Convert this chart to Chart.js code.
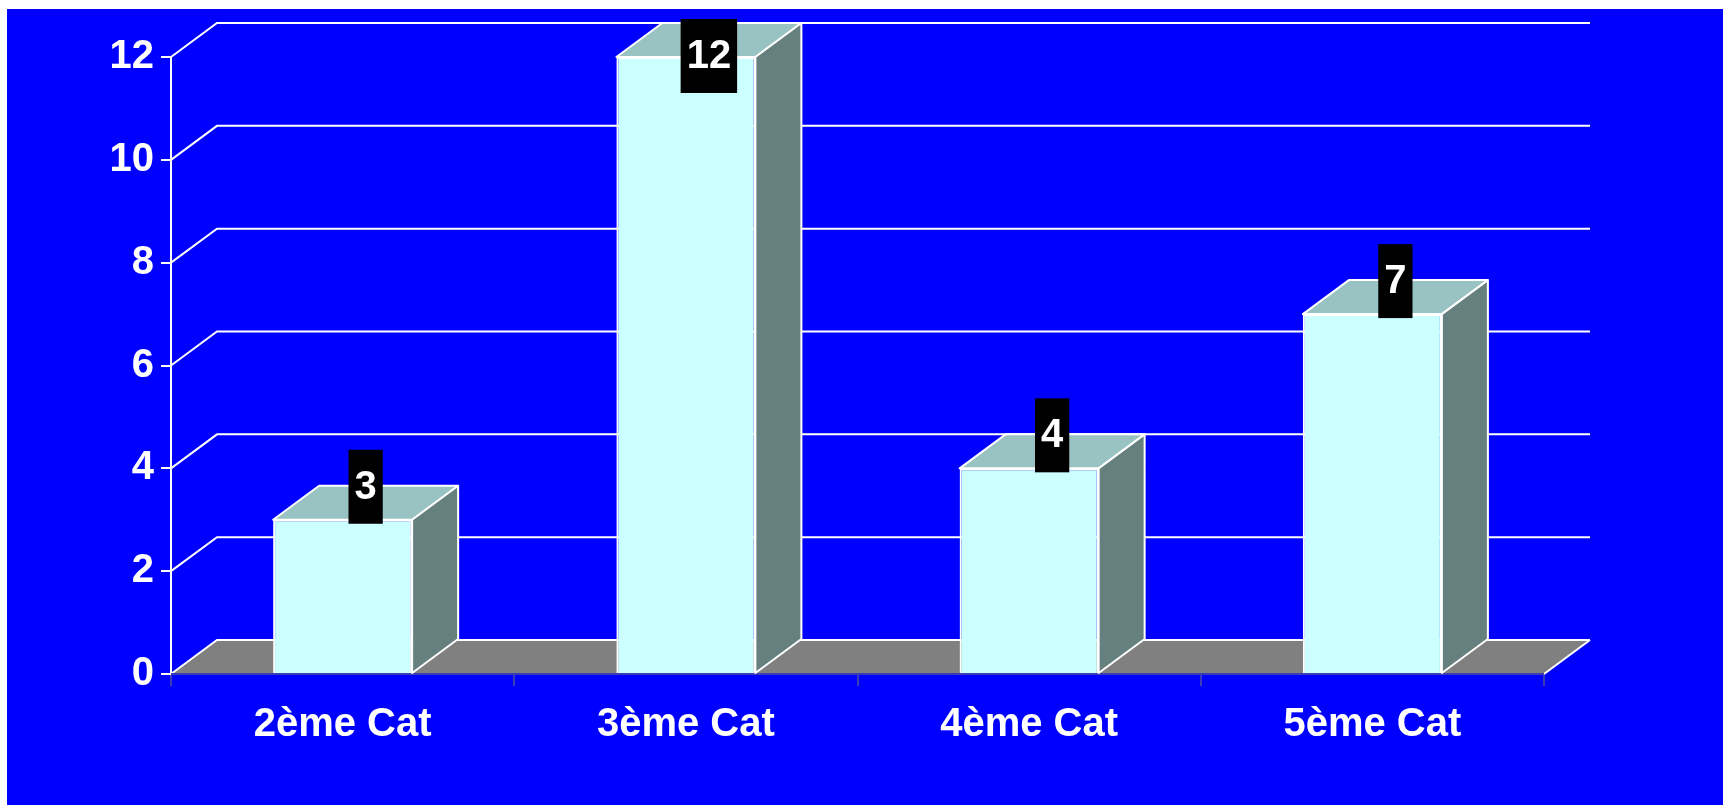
<!DOCTYPE html>
<html>
<head>
<meta charset="utf-8">
<script src="https://cdn.jsdelivr.net/npm/chart.js@4/dist/chart.umd.min.js"></script>
<style>
  html, body { margin: 0; padding: 0; background: #ffffff; }
  #panel { position: absolute; left: 7px; top: 9px; width: 1716px; height: 796px; background: #0000ff; }
</style>
</head>
<body>
<div id="panel"><canvas id="c1" width="1716" height="796"></canvas></div>
<script>
var categories = ['2ème Cat', '3ème Cat', '4ème Cat', '5ème Cat'];
var values = [3, 12, 4, 7];
var yMax = 12;
var yStep = 2;

var FONT = '"Liberation Sans", Arial, Helvetica, sans-serif';
var DX = 46, DY = 34; // depth of the 3D walls and bars

// floor, back walls and grid lines behind the bars
var floorAndGrid = {
    id: 'floorAndGrid',
    beforeDatasetsDraw: function(chart) {
        var ctx = chart.ctx, a = chart.chartArea, y = chart.scales.y;
        var y0 = y.getPixelForValue(0);
        ctx.save();
        ctx.fillStyle = '#808080';
        ctx.beginPath();
        ctx.moveTo(a.left, y0);
        ctx.lineTo(a.right, y0);
        ctx.lineTo(a.right + DX, y0 - DY);
        ctx.lineTo(a.left + DX, y0 - DY);
        ctx.closePath();
        ctx.fill();

        ctx.strokeStyle = '#ffffff';
        ctx.lineWidth = 2;
        for (var v = 0; v <= yMax; v += yStep) {
            var py = y.getPixelForValue(v);
            ctx.beginPath();
            ctx.moveTo(a.left, py);
            ctx.lineTo(a.left + DX, py - DY);
            ctx.lineTo(a.right + DX, py - DY);
            ctx.stroke();
        }
        // right edge of the floor
        ctx.beginPath();
        ctx.moveTo(a.right, y0);
        ctx.lineTo(a.right + DX, y0 - DY);
        ctx.stroke();
        // front edge of the floor
        ctx.strokeStyle = '#3c3cb4';
        ctx.beginPath();
        ctx.moveTo(a.left, y0);
        ctx.lineTo(a.right, y0);
        ctx.stroke();
        ctx.restore();
    }
};

// top and side faces of each bar, then the value boxes
var bars3d = {
    id: 'bars3d',
    afterDatasetsDraw: function(chart) {
        var ctx = chart.ctx;
        var meta = chart.getDatasetMeta(0);
        ctx.save();
        ctx.lineWidth = 2;
        ctx.strokeStyle = '#ffffff';
        ctx.lineJoin = 'round';
        meta.data.forEach(function(bar) {
            var p = bar.getProps(['x', 'y', 'base', 'width'], true);
            var x0 = p.x - p.width / 2, x1 = p.x + p.width / 2;
            var top = p.y, base = p.base;

            ctx.fillStyle = '#99c2c2';
            ctx.beginPath();
            ctx.moveTo(x0, top);
            ctx.lineTo(x1, top);
            ctx.lineTo(x1 + DX, top - DY);
            ctx.lineTo(x0 + DX, top - DY);
            ctx.closePath();
            ctx.fill();
            ctx.stroke();

            ctx.fillStyle = '#668080';
            ctx.beginPath();
            ctx.moveTo(x1, top);
            ctx.lineTo(x1 + DX, top - DY);
            ctx.lineTo(x1 + DX, base - DY);
            ctx.lineTo(x1, base);
            ctx.closePath();
            ctx.fill();
            ctx.stroke();
        });

        ctx.font = 'bold 40px ' + FONT;
        ctx.textAlign = 'center';
        ctx.textBaseline = 'middle';
        meta.data.forEach(function(bar, i) {
            var p = bar.getProps(['x', 'y'], true);
            var txt = String(values[i]);
            var w = ctx.measureText(txt).width + 12;
            var h = 74;
            var cx = p.x + DX / 2;
            var bottom = p.y + 4;
            var top = Math.max(bottom - h, 10);
            ctx.fillStyle = '#000000';
            ctx.fillRect(cx - w / 2, top, w, h);
            ctx.fillStyle = '#ffffff';
            ctx.fillText(txt, cx, top + h / 2 + 1);
        });
        ctx.restore();
    }
};

var data = {
    labels: categories,
    datasets: [{
        data: values,
        backgroundColor: '#ccffff',
        borderColor: '#ffffff',
        borderWidth: 2,
        barPercentage: 0.405,
        categoryPercentage: 1
    }]
};

var options = {
    responsive: false,
    animation: false,
    events: [],
    layout: { padding: { top: 48, right: 179, left: 0, bottom: 0 } },
    plugins: { legend: { display: false }, tooltip: { enabled: false } },
    scales: {
        x: {
            offset: true,
            grid: { display: true, drawOnChartArea: false, offset: true, color: '#3c3cb4', lineWidth: 2, tickLength: 12 },
            border: { display: false },
            ticks: { color: '#ffffff', padding: 15, font: { family: FONT, size: 40, weight: 'bold' } },
            afterFit: function(s) { s.height = 131; }
        },
        y: {
            min: 0,
            max: yMax,
            grid: { display: true, drawOnChartArea: false, color: '#ffffff', lineWidth: 2, tickLength: 10 },
            border: { display: true, color: '#ffffff', width: 2 },
            ticks: { stepSize: yStep, color: '#ffffff', padding: 7, font: { family: FONT, size: 40, weight: 'bold' } },
            afterFit: function(s) { s.width = 164; }
        }
    }
};

var ctx = document.getElementById('c1').getContext('2d');
var chart = new Chart(ctx, {
    type: 'bar',
    data: data,
    options: options,
    plugins: [floorAndGrid, bars3d]
});
</script>
</body>
</html>
